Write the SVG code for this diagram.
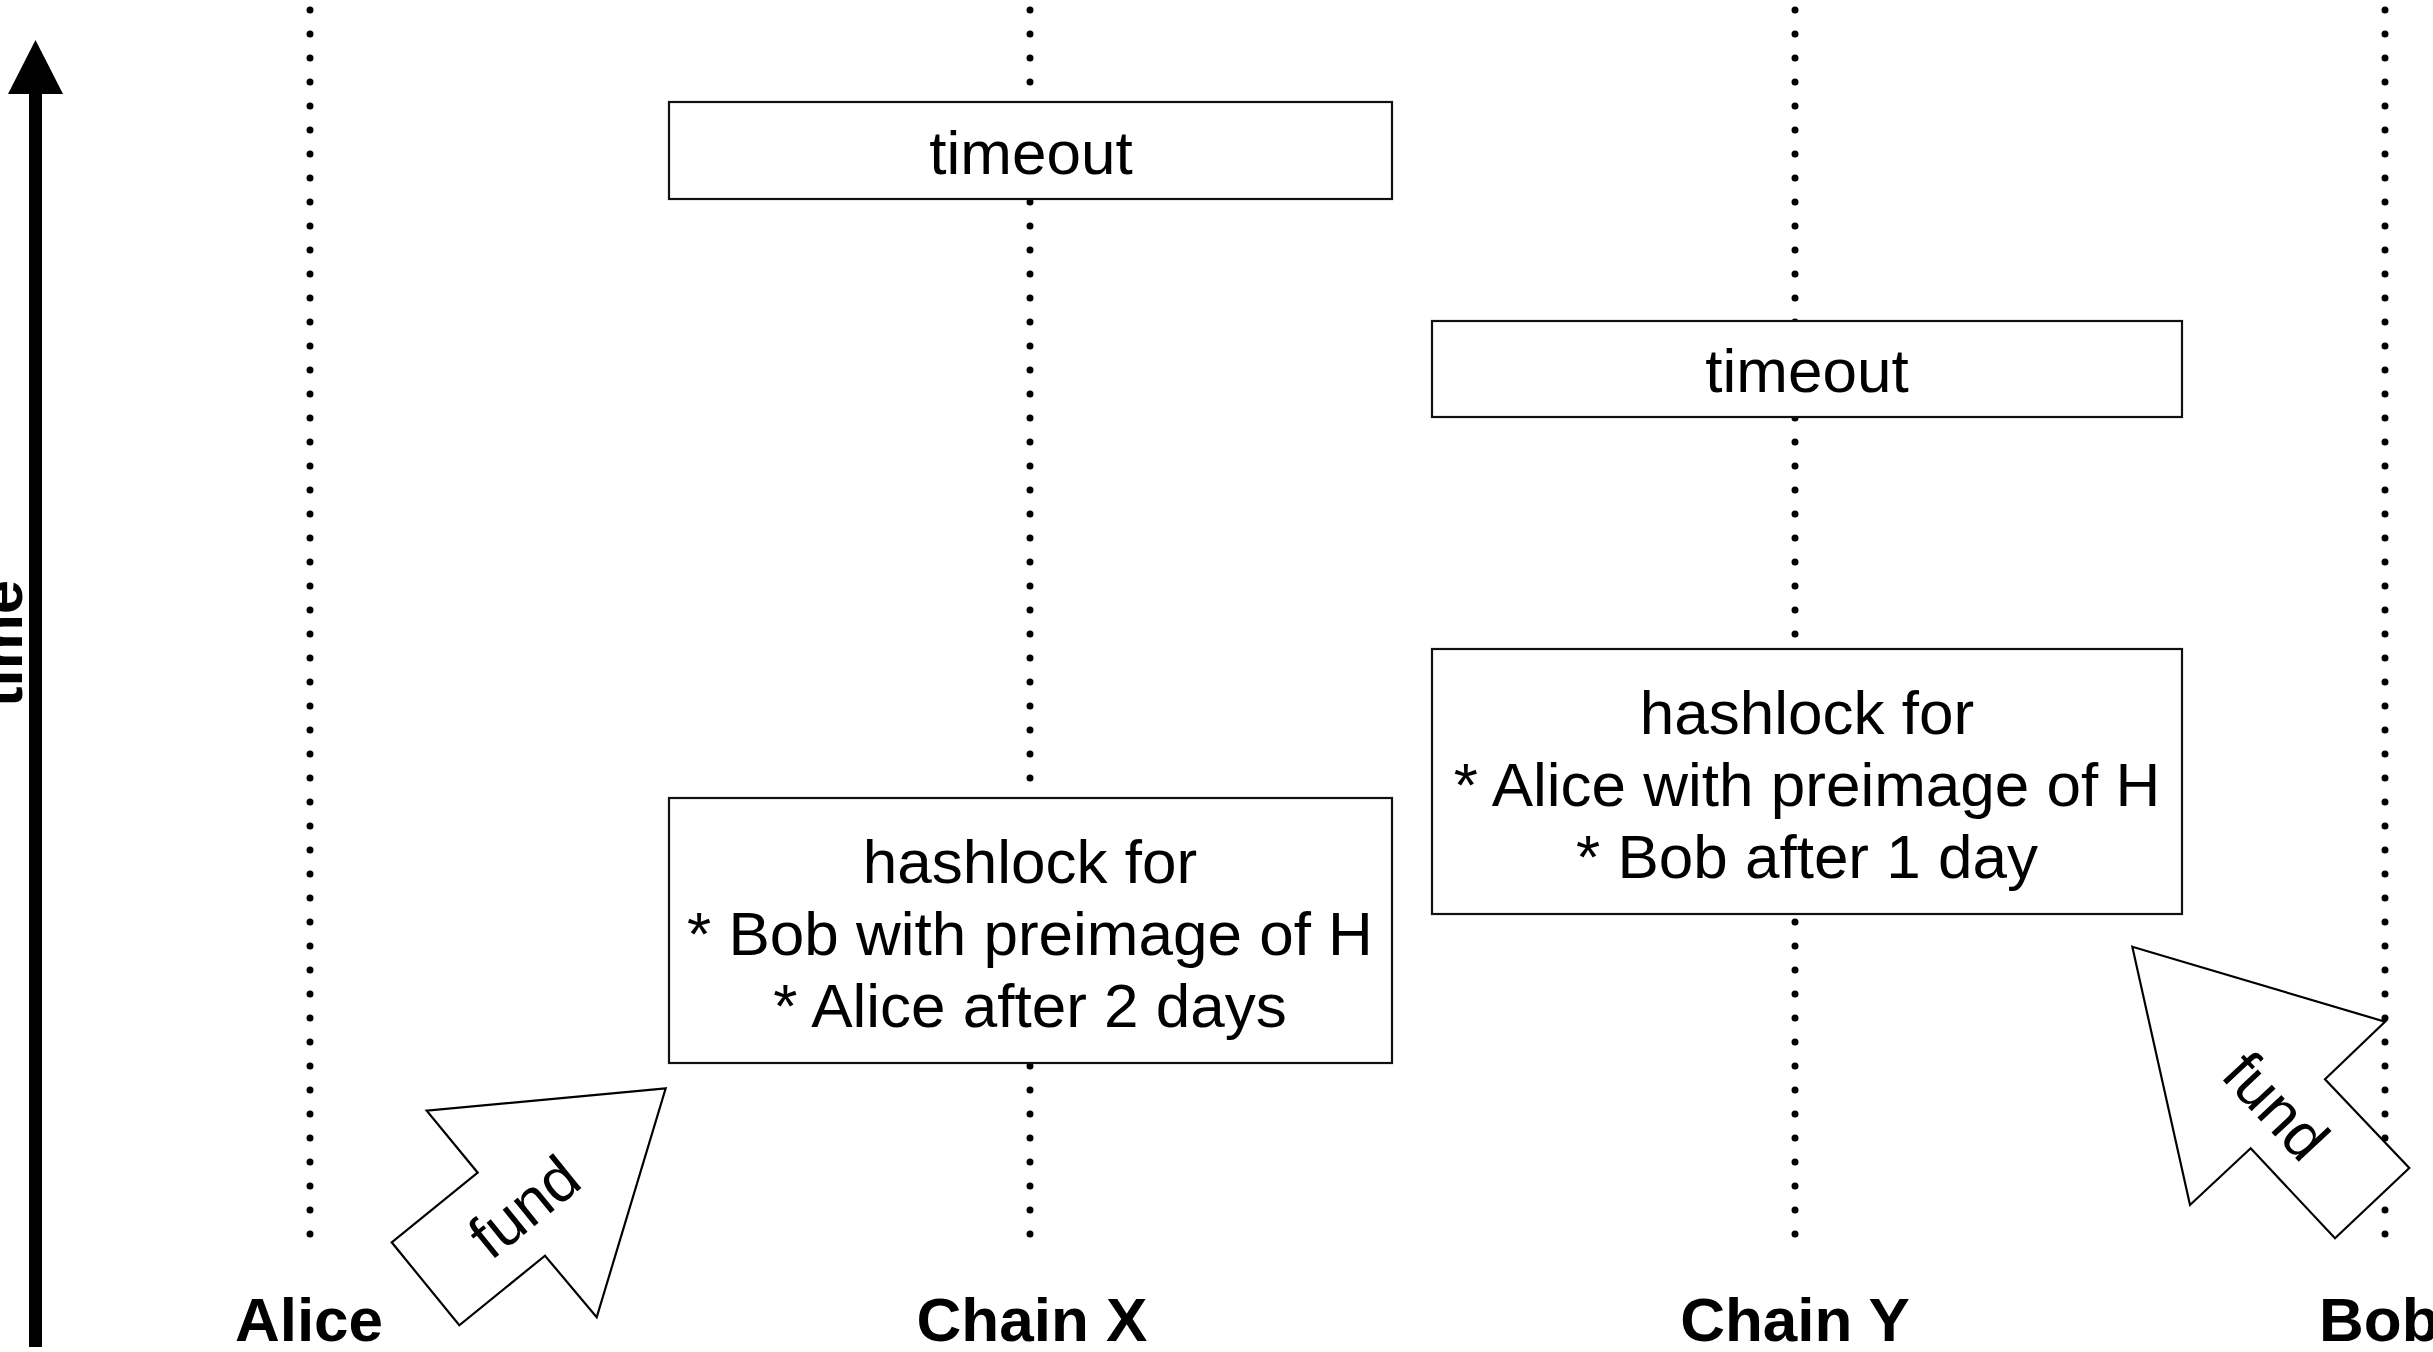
<svg xmlns="http://www.w3.org/2000/svg" width="2433" height="1352" viewBox="0 0 2433 1352">
  <style>
    .lane { stroke: #000; stroke-width: 7; stroke-linecap: round; stroke-dasharray: 0 24; fill: none; }
    .box { fill: #fff; stroke: #111; stroke-width: 2.2; }
    .txt { font-family: "Liberation Sans", Arial, sans-serif; font-size: 62px; fill: #000; text-anchor: middle; }
    .lbl { font-family: "Liberation Sans", Arial, sans-serif; font-size: 62px; font-weight: bold; fill: #000; text-anchor: middle; }
    .fund { fill: #fff; stroke: #000; stroke-width: 2.2; stroke-linejoin: miter; }
  </style>

  <!-- time axis -->
  <g id="time-axis">
    <rect x="29" y="92" width="13" height="1255" fill="#000"/>
    <polygon points="35.5,40 8,94 63,94" fill="#000"/>
    <text class="lbl" transform="translate(22,643.5) rotate(-90)">time</text>
  </g>

  <!-- dotted lifelines -->
  <g id="connectors">
    <line class="lane" x1="310" y1="10" x2="310" y2="1236"/>
    <line class="lane" x1="1030" y1="10" x2="1030" y2="1236"/>
    <line class="lane" x1="1795" y1="10" x2="1795" y2="1236"/>
    <line class="lane" x1="2385" y1="10" x2="2385" y2="1236"/>
  </g>

  <!-- Chain X -->
  <g id="timeout-x">
    <rect class="box" x="669" y="102" width="723" height="97"/>
    <text class="txt" x="1031" y="174">timeout</text>
  </g>
  <g id="hashlock-x">
    <rect class="box" x="669" y="798" width="723" height="265"/>
    <text class="txt" x="1030" y="883">hashlock for</text>
    <text class="txt" x="1030" y="955">* Bob with preimage of H</text>
    <text class="txt" x="1030" y="1027">* Alice after 2 days</text>
  </g>

  <!-- Chain Y -->
  <g id="timeout-y">
    <rect class="box" x="1432" y="321" width="750" height="96"/>
    <text class="txt" x="1807" y="392">timeout</text>
  </g>
  <g id="hashlock-y">
    <rect class="box" x="1432" y="649" width="750" height="265"/>
    <text class="txt" x="1807" y="734">hashlock for</text>
    <text class="txt" x="1807" y="806">* Alice with preimage of H</text>
    <text class="txt" x="1807" y="878">* Bob after 1 day</text>
  </g>

  <!-- funding arrows -->
  <g id="fund-alice">
    <polygon class="fund" points="665.7,1088.3 426.7,1110.7 477.7,1172.7 391.7,1242.3 459.3,1325.3 545,1255.7 596.7,1317.3"/>
    <text class="txt" transform="translate(525,1208) rotate(-39)" y="20">fund</text>
  </g>
  <g id="fund-bob">
    <polygon class="fund" points="2132.3,946.7 2385,1021.7 2325,1079.3 2409.3,1168 2335,1238.3 2250.7,1148.3 2190,1205"/>
    <text class="txt" transform="translate(2275,1107) rotate(47)" y="20">fund</text>
  </g>

  <!-- column labels -->
  <g id="labels">
    <text class="lbl" x="309" y="1341">Alice</text>
    <text class="lbl" x="1032" y="1341">Chain X</text>
    <text class="lbl" x="1795" y="1341">Chain Y</text>
    <text class="lbl" x="2319" y="1341" style="text-anchor:start">Bob</text>
  </g>
</svg>
